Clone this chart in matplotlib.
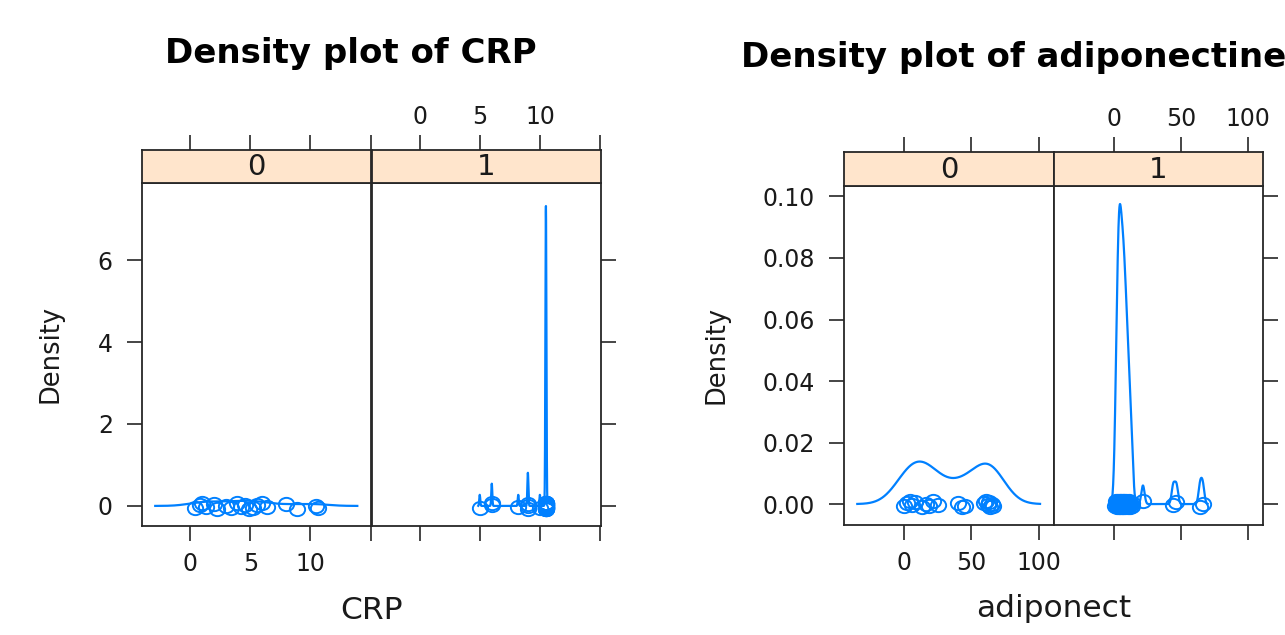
import numpy as np
import matplotlib
matplotlib.use("Agg")
import matplotlib.pyplot as plt
from matplotlib.path import Path
from matplotlib.transforms import Affine2D

# ---------------- data ----------------
levels = ["0", "1"]

crp_0 = [0.4, 0.8, 1.0, 1.3, 2.0, 2.2, 3.0, 3.4, 3.9, 4.2, 4.6, 4.9, 5.2,
         5.6, 6.0, 6.4, 8.0, 8.9, 10.5, 10.6]
crp_1 = [5.0, 6.0, 6.0, 8.2, 9.0, 9.0, 9.0, 10.0,
         10.5, 10.5, 10.5, 10.5, 10.5, 10.5, 10.5, 10.5, 10.5, 10.5,
         10.5, 10.5, 10.5, 10.5, 10.5, 10.5, 10.5, 10.5, 10.5, 10.5,
         10.5, 10.5, 10.5, 10.5, 10.5, 10.5, 10.5]
crp_bw = [1.1, 0.042]

adipo_0 = [0, 2, 4, 6, 8, 13, 16, 18, 21, 25, 40, 43, 45,
           59, 61, 62, 63, 64, 65, 66]
adipo_1 = [0.75, 1.30, 1.68, 1.99, 2.25, 2.49, 2.71, 2.91, 3.10, 3.27, 3.44,
           3.60, 3.77, 3.93, 4.10, 4.27, 4.45, 4.63, 4.81, 4.99, 5.18, 5.37,
           5.57, 5.77, 5.98, 6.19, 6.40, 6.62, 6.85, 7.0, 7.09, 7.33, 7.58,
           7.84, 8.11, 8.40, 8.6, 8.70, 9.01, 9.34, 9.70, 10.08, 10.2, 10.51,
           10.98, 11.52, 11.8, 12.19, 13.17, 13.6,
           21.6, 44.3, 46.7, 64.4, 66.4]
adipo_bw = [11.7, 1.2]

crp_xticks = [0, 5, 10, 15]
crp_xticklabels = ["0", "5", "10", ""]
crp_yticks = [0, 2, 4, 6]
crp_yticklabels = ["0", "2", "4", "6"]

adipo_xticks = [0, 50, 100]
adipo_xticklabels = ["0", "50", "100"]
adipo_yticks = [0.00, 0.02, 0.04, 0.06, 0.08, 0.10]
adipo_yticklabels = ["0.00", "0.02", "0.04", "0.06", "0.08", "0.10"]

# ---------------- style ----------------
W, H = 1285, 635
BLUE = "#0080ff"
FRAME = "#262626"
STRIP = "#ffe5cc"
TXT = "#1a1a1a"
JITTER = [-0.7, 0.4, 0.9, -0.2, 0.6, -0.9, 0.1, -0.5, 0.8, -0.3, 0.3, -0.8]
TICKLEN = 11
TICKFS = 17
STRIPFS = 21
LABFS = 22.5
YLABFS = 18.5
TITLEFS = 24.5

plt.rcParams["font.family"] = ["DejaVu Sans"]

fig = plt.figure(figsize=(W / 100, H / 100), dpi=100)

ellipse = Path.unit_circle().transformed(Affine2D().scale(1.15, 1.0))


def ax_px(x0, y0, x1, y1):
    return fig.add_axes([x0 / W, 1 - y1 / H, (x1 - x0) / W, (y1 - y0) / H])


def kde(vals, bw, n=512):
    v = np.asarray(vals, float)
    grid = np.linspace(v.min() - 3 * bw, v.max() + 3 * bw, n)
    d = np.exp(-0.5 * ((grid[:, None] - v[None, :]) / bw) ** 2).sum(1)
    return grid, d / (len(v) * bw * np.sqrt(2 * np.pi))


def style_spines(ax):
    for s in ax.spines.values():
        s.set_color(FRAME)
        s.set_linewidth(1.3)


def draw_chart(xs, strip_top, strip_bot, ybot, groups, bws, xlim, ylim,
               xticks, xticklabels, yticks, yticklabels):
    for i in range(2):
        left, right = xs[i], xs[i + 1]
        ax = ax_px(left, strip_bot, right, ybot)
        vals = groups[i]
        g, d = kde(vals, bws[i])
        ax.plot(g, d, color=BLUE, lw=1.6)
        amt = 0.01 * (ylim[1] - ylim[0])
        jy = [JITTER[k % len(JITTER)] * amt for k in range(len(vals))]
        ax.plot(vals, jy, linestyle="none", marker=ellipse, ms=11,
                mfc="none", mec=BLUE, mew=1.4)
        ax.set_xlim(*xlim)
        ax.set_ylim(*ylim)
        style_spines(ax)
        ax.set_xticks(xticks)
        ax.set_yticks(yticks)
        ax.tick_params(direction="out", length=TICKLEN, width=1.2,
                       color=FRAME, labelsize=TICKFS, labelcolor=TXT)
        ax.tick_params(axis="x", pad=8)
        ax.tick_params(axis="y", pad=10)
        if i == 0:
            ax.set_xticklabels(xticklabels)
            ax.set_yticklabels(yticklabels)
        else:
            ax.set_xticklabels([])
            ax.yaxis.tick_right()
            ax.set_yticklabels([])
        # strip
        sx = ax_px(left, strip_top, right, strip_bot)
        sx.set_facecolor(STRIP)
        sx.set_xlim(*xlim)
        sx.set_ylim(0, 1)
        style_spines(sx)
        sx.set_yticks([])
        sx.xaxis.tick_top()
        sx.set_xticks(xticks)
        sx.tick_params(direction="out", length=TICKLEN, width=1.2,
                       color=FRAME, labelsize=TICKFS, pad=4, labelcolor=TXT)
        if i == 1:
            sx.set_xticklabels(xticklabels)
        else:
            sx.set_xticklabels([])
        sx.text(0.5, 0.47, levels[i], transform=sx.transAxes, ha="center",
                va="center", fontsize=STRIPFS, color=TXT)


# left chart (CRP)
draw_chart([142, 371.5, 601], 150, 183, 526, [crp_0, crp_1], crp_bw,
           (-4.0, 15.08), (-0.49, 7.88), crp_xticks, crp_xticklabels,
           crp_yticks, crp_yticklabels)
# right chart (adiponectin)
draw_chart([844, 1054, 1263], 152, 186, 525, [adipo_0, adipo_1], adipo_bw,
           (-45.0, 111.5), (-0.0068, 0.1034), adipo_xticks,
           adipo_xticklabels, adipo_yticks, adipo_yticklabels)

fig.text(351 / W, 1 - 63 / H, "Density plot of CRP", ha="center",
         va="baseline", fontsize=TITLEFS, fontweight="bold")
fig.text(741 / W, 1 - 67 / H, "Density plot of adiponectine", ha="left",
         va="baseline", fontsize=TITLEFS, fontweight="bold")

fig.text(371.5 / W, 1 - 619 / H, "CRP", ha="center", va="baseline",
         fontsize=LABFS, color=TXT)
fig.text(1053.5 / W, 1 - 617 / H, "adiponect", ha="center", va="baseline",
         fontsize=LABFS, color=TXT)
fig.text(51 / W, 1 - 354 / H, "Density", ha="center", va="center",
         rotation=90, fontsize=YLABFS, color=TXT)
fig.text(717 / W, 1 - 355 / H, "Density", ha="center", va="center",
         rotation=90, fontsize=YLABFS, color=TXT)

fig.savefig("out.png", dpi=100)
